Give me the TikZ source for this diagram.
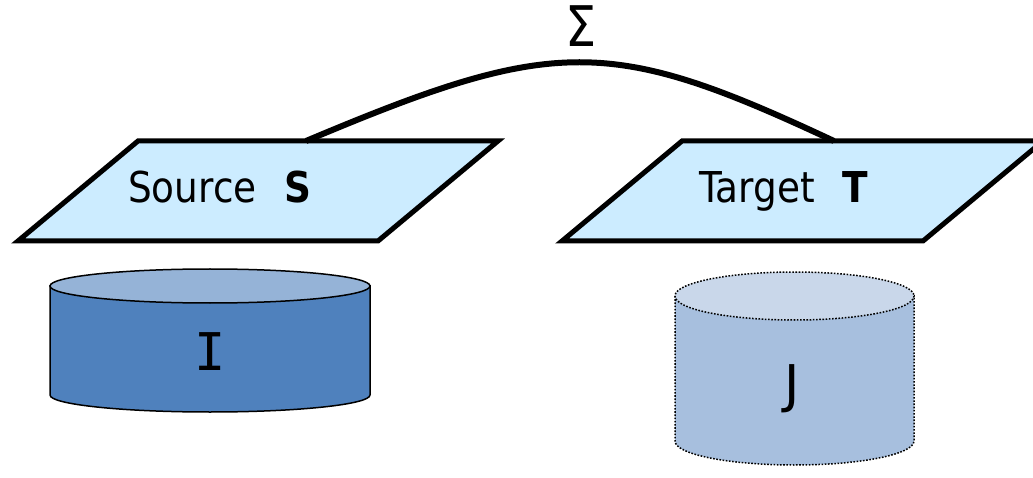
\documentclass[tikz,border=0pt]{standalone}
\usepackage{fontspec}
\setmainfont{DejaVu Sans}
\newfontfamily\lblfont[FakeStretch=0.88]{DejaVu Sans}
\newfontfamily\monofnt{DejaVu Sans Mono}
\definecolor{planefill}{HTML}{CCECFF}
\definecolor{bodyI}{HTML}{4F81BD}
\definecolor{topI}{HTML}{95B3D7}
\definecolor{bodyJ}{HTML}{A7BFDE}
\definecolor{topJ}{HTML}{C9D7EA}
\tikzset{
  plane/.style={draw=black, fill=planefill, line width=5pt, line join=miter},
  link/.style={draw=black, line width=6pt},
  cylI/.style={draw=black, line width=1.5pt},
  cylJ/.style={draw=black, line width=1.5pt, dash pattern=on 1.6pt off 1.6pt},
  lbl/.style={inner sep=0pt, anchor=base west, font=\lblfont\fontsize{42.5}{50}\selectfont},
  biglbl/.style={inner sep=0pt, font=\fontsize{52}{60}\selectfont}
}
\begin{document}
\begin{tikzpicture}[x=1pt, y=-1pt]
\useasboundingbox (0,0) rectangle (1033,478);
% Source plane
\coordinate (s1) at (138,141);
\coordinate (s2) at (498,141);
\coordinate (s3) at (378,241);
\coordinate (s4) at (18,241);
\path[plane] (s1) -- (s2) -- (s3) -- (s4) -- cycle;
\node[lbl] (srclbl) at (128,203) {Source\hspace{0.65em}\textbf{S}};
% Target plane
\coordinate (t1) at (682,141);
\coordinate (t2) at (1043,141);
\coordinate (t3) at (923,241);
\coordinate (t4) at (562,241);
\path[plane] (t1) -- (t2) -- (t3) -- (t4) -- cycle;
\node[lbl] (tgtlbl) at (699,203) {Target\hspace{0.65em}\textbf{T}};
% connecting curve
\coordinate (sa) at (306,141);
\coordinate (ta) at (834,141);
\draw[link] (sa) .. controls (555,36) and (610,36) .. (ta);
\node[inner sep=0pt, font=\lblfont\fontsize{56}{60}\selectfont] (sigma) at (581,26) {Σ};
% Cylinder I
\path[cylI, fill=bodyI] (50,286) -- (50,395) arc[start angle=180, end angle=0, x radius=160, y radius=17] -- (370,286) -- cycle;
\path[cylI, fill=topI] (210,286) ellipse[x radius=160, y radius=17];
\node[biglbl, font=\monofnt\fontsize{52}{60}\selectfont] (cI) at (210,352) {I};
% Cylinder J
\path[cylJ, fill=bodyJ] (675,296) -- (675,441) arc[start angle=180, end angle=0, x radius=119.5, y radius=24] -- (914,296) -- cycle;
\path[cylJ, fill=topJ] (794.5,296) ellipse[x radius=119.5, y radius=24];
\node[biglbl] (cJ) at (792,389) {J};
\end{tikzpicture}
\end{document}
